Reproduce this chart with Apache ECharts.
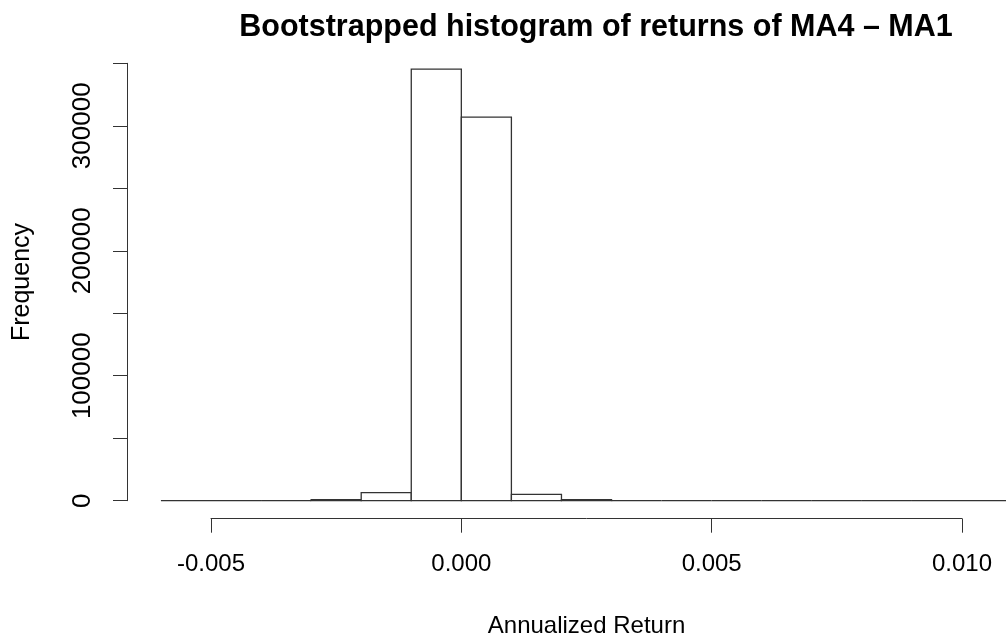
<!DOCTYPE html>
<html>
<head>
<meta charset="utf-8">
<script src="https://cdn.jsdelivr.net/npm/echarts@6/dist/echarts.min.js"></script>
<style>
  html, body { margin: 0; padding: 0; background: #fff; }
  #main { width: 1006px; height: 643px; }
</style>
</head>
<body>
<div id="main"></div>
<script>
// histogram bins (left edges), width 0.001
var binStart = [-0.006, -0.005, -0.004, -0.003, -0.002, -0.001, 0.000, 0.001, 0.002,
                0.003, 0.004, 0.005, 0.006, 0.007, 0.008, 0.009, 0.010];
var binWidth = 0.001;
var counts = [0, 0, 0, 900, 6400, 345400, 307000, 5100, 900,
              0, 0, 0, 0, 0, 0, 0, 0];
var xTicks = [-0.005, 0.000, 0.005, 0.010];
var yLabelled = [0, 100000, 200000, 300000];

var data = binStart.map(function (b, i) {
    return [b, b + binWidth, counts[i]];
});

var lineColor = '#333';
var font = 'Liberation Sans, Arial, sans-serif';

var myChart = echarts.init(document.getElementById('main'), null, {renderer: 'canvas'});

var option = {
    backgroundColor: '#fff',
    animation: false,
    title: {
        text: 'Bootstrapped histogram of returns of MA4 \u2013 MA1',
        left: 591,
        top: 7,
        textAlign: 'center',
        textStyle: { fontFamily: font, fontSize: 30.5, fontWeight: 'bold', color: '#000' }
    },
    grid: { left: 211, right: 44, top: 63.3, bottom: 142.3, outerBoundsMode: 'none', containLabel: false },
    xAxis: {
        type: 'value',
        min: -0.005,
        max: 0.010,
        interval: 0.005,
        offset: 18,
        name: 'Annualized Return',
        nameLocation: 'middle',
        nameGap: 96,
        nameTextStyle: { fontFamily: font, fontSize: 24, color: '#000' },
        axisLine: { show: true, onZero: false, lineStyle: { color: lineColor, width: 1 } },
        axisTick: { show: true, length: 14, lineStyle: { color: lineColor, width: 1 } },
        axisLabel: {
            fontFamily: font, fontSize: 24, color: '#000', margin: 34,
            showMinLabel: true, showMaxLabel: true,
            formatter: function (v) { return v.toFixed(3); }
        },
        splitLine: { show: false }
    },
    yAxis: {
        type: 'value',
        min: 0,
        max: 350000,
        interval: 50000,
        offset: 84,
        name: 'Frequency',
        nameLocation: 'middle',
        nameGap: 92,
        nameRotate: 90,
        nameTextStyle: { fontFamily: font, fontSize: 25, color: '#000' },
        axisLine: { show: true, onZero: false, lineStyle: { color: lineColor, width: 1 } },
        axisTick: { show: true, length: 14, lineStyle: { color: lineColor, width: 1 } },
        axisLabel: {
            fontFamily: font, fontSize: 26, color: '#000', margin: 31, rotate: 90,
            formatter: function (v) { return yLabelled.indexOf(v) >= 0 ? String(v) : ''; }
        },
        splitLine: { show: false }
    },
    series: [{
        type: 'custom',
        clip: false,
        data: data,
        renderItem: function (params, api) {
            var p0 = api.coord([api.value(0), api.value(2)]);
            var p1 = api.coord([api.value(1), 0]);
            return {
                type: 'rect',
                shape: { x: p0[0], y: p0[1], width: p1[0] - p0[0], height: p1[1] - p0[1] },
                style: { fill: '#fff', stroke: lineColor, lineWidth: 1.3 }
            };
        }
    }]
};

myChart.setOption(option);
</script>
</body>
</html>
